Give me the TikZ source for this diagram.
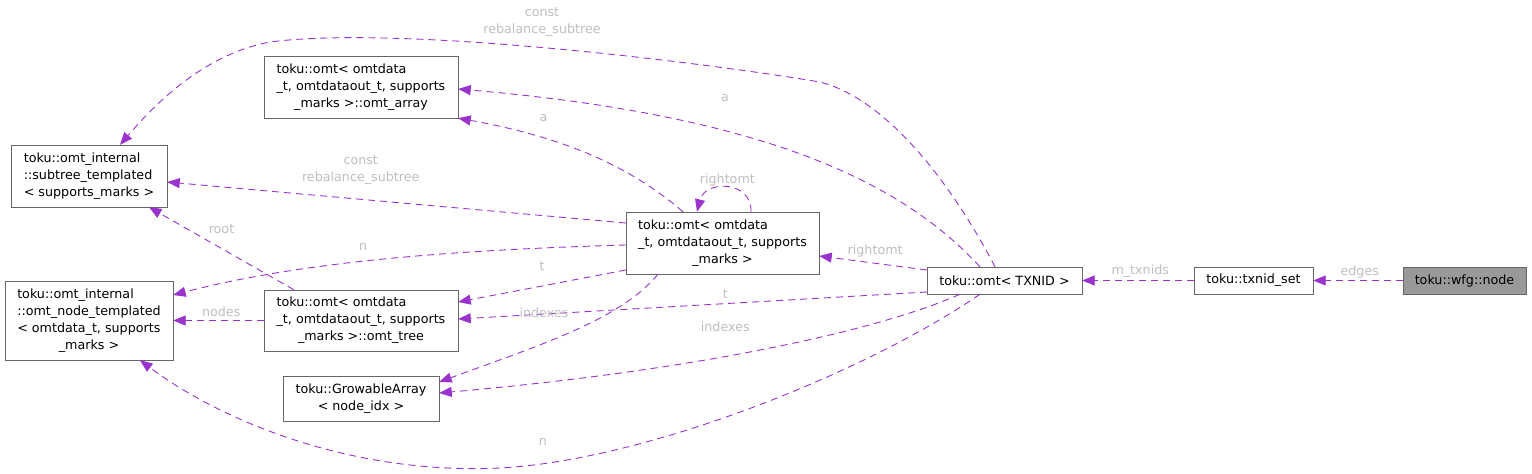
\documentclass[tikz,border=0pt]{standalone}
\usepackage{fontspec}
\setmainfont{DejaVu Sans}
\usetikzlibrary{arrows.meta}

\definecolor{edgepurple}{HTML}{9A32CD}
\definecolor{labelgray}{HTML}{BEBEBE}
\definecolor{boxgray}{HTML}{666666}
\definecolor{focusfill}{HTML}{999999}

% class box text: upper lines left, last line centred
\newcommand{\cls}[2]{\begin{tabular}{@{}l@{}}#1\\\multicolumn{1}{@{}c@{}}{#2}\end{tabular}}

\begin{document}
\begin{tikzpicture}[
    x=1pt, y=-1pt,
    font=\fontsize{12.7}{17}\selectfont,
    box/.style={draw=boxgray, fill=white, rectangle, inner sep=0pt, align=center},
    focus/.style={box, fill=focusfill},
    uses/.style={-{Triangle[length=12.5pt, width=10pt]}, edgepurple, dash pattern=on 7pt off 5pt, line width=0.9pt},
    lbl/.style={text=labelgray, inner sep=0pt, align=center}
]
\useasboundingbox (0,0) rectangle (1532,474);

% Nodes
\node[focus, minimum width=123pt, minimum height=27pt] (wfgnode) at (1464.5,280.5) {toku::wfg::node};
\node[box, minimum width=119pt, minimum height=27pt] (txnidset) at (1253.5,280.5) {toku::txnid\_set};
\node[box, minimum width=155pt, minimum height=27pt] (omttxnid) at (1004.5,280.5) {toku::omt< TXNID >};
\node[box, minimum width=193pt, minimum height=62pt] (omtmain) at (722.5,243) {\cls{toku::omt< omtdata\\\_t, omtdataout\_t, supports}{\_marks >}};
\node[box, minimum width=194pt, minimum height=62pt] (omtarray) at (361,87) {\cls{toku::omt< omtdata\\\_t, omtdataout\_t, supports}{\_marks >::omt\_array}};
\node[box, minimum width=156pt, minimum height=62pt] (subtree) at (89,176) {\cls{toku::omt\_internal\\::subtree\_templated}{< supports\_marks >}};
\node[box, minimum width=194pt, minimum height=61pt] (omttree) at (361,320.5) {\cls{toku::omt< omtdata\\\_t, omtdataout\_t, supports}{\_marks >::omt\_tree}};
\node[box, minimum width=168pt, minimum height=79pt] (nodetempl) at (89,320.5) {\cls{toku::omt\_internal\\::omt\_node\_templated\\< omtdata\_t, supports}{\_marks >}};
\node[box, minimum width=156pt, minimum height=45pt] (growable) at (361,398.5) {\cls{toku::GrowableArray}{< node\_idx >}};

% Arrows from the right side
\draw[uses] (wfgnode) -- (txnidset) node[lbl, pos=0.48, yshift=8.5pt] {edges};
\draw[uses] (txnidset) -- (omttxnid) node[lbl, pos=0.48, yshift=9.5pt] {m\_txnids};
\draw[uses] ([yshift=10.5pt]omttxnid.west) -- ([yshift=-13pt]omtmain.east) node[lbl, pos=0.48, yshift=12pt] {rightomt};
\draw[uses] ([xshift=-9.5pt]omttxnid.north) .. controls (955,190) and (890,100) .. (820,82)
    .. controls (700,62) and (400,25) .. node[lbl, pos=0.52, xshift=6pt, yshift=25pt] {const\\rebalance\_subtree} (270,42)
    .. controls (200,55) and (150,110) .. ([xshift=31pt]subtree.north);
\draw[uses] ([xshift=-24.5pt]omttxnid.north) .. controls (900,180) and (760,115) .. node[lbl, pos=0.65, xshift=5pt, yshift=32pt] {a} ([yshift=-2pt]omtarray.east);
\draw[uses] ([yshift=-11.5pt]omttxnid.west) -- ([yshift=1.5pt]omttree.east) node[lbl, pos=0.43, yshift=10pt] {t};
\draw[uses] ([xshift=-44.5pt]omttxnid.south) .. controls (880,330) and (700,370) .. node[lbl, pos=0.57, xshift=-4pt, yshift=29pt] {indexes} ([yshift=5.5pt]growable.east);
\draw[uses] ([xshift=-24.5pt]omttxnid.south) .. controls (870,370) and (650,460) .. node[lbl, pos=0.9, xshift=-4pt, yshift=21pt] {n} (500,468)
    .. controls (350,475) and (220,420) .. ([xshift=51pt]nodetempl.south);

% Arrows from the main omt
\draw[uses] ([xshift=-39.5pt]omtmain.north) .. controls (640,175) and (580,140) .. node[lbl, pos=0.74, xshift=2pt, yshift=19.5pt] {a} (omtarray.south east);
\draw[uses] ([yshift=20pt]omtmain.west) -- ([yshift=-6pt]subtree.east) node[lbl, pos=0.578, yshift=29pt] {const\\rebalance\_subtree};
\draw[uses] ([xshift=28.5pt]omtmain.north) .. controls (752,180) and (705,180) .. node[lbl, pos=0.5, yshift=8pt] {rightomt} ([xshift=-25.5pt]omtmain.north);
\draw[uses] ([yshift=-2pt]omtmain.west) .. controls (450,250) and (300,262) .. node[lbl, pos=0.54, yshift=14.5pt] {n} ([yshift=25.5pt]nodetempl.east);
\draw[uses] ([yshift=-27pt]omtmain.west) -- ([yshift=18.5pt]omttree.east) node[lbl, pos=0.5, yshift=20pt] {t};
\draw[uses] ([xshift=-64.5pt]omtmain.south) .. controls (620,320) and (540,345) .. node[lbl, pos=0.62, yshift=30pt] {indexes} ([yshift=16.5pt]growable.east);

% Arrows from the tree
\draw[uses] ([xshift=-67pt]omttree.north) -- ([xshift=60pt]subtree.south) node[lbl, pos=0.5, yshift=19.5pt] {root};
\draw[uses] (omttree) -- (nodetempl) node[lbl, pos=0.47, yshift=8.5pt] {nodes};

\end{tikzpicture}
\end{document}
